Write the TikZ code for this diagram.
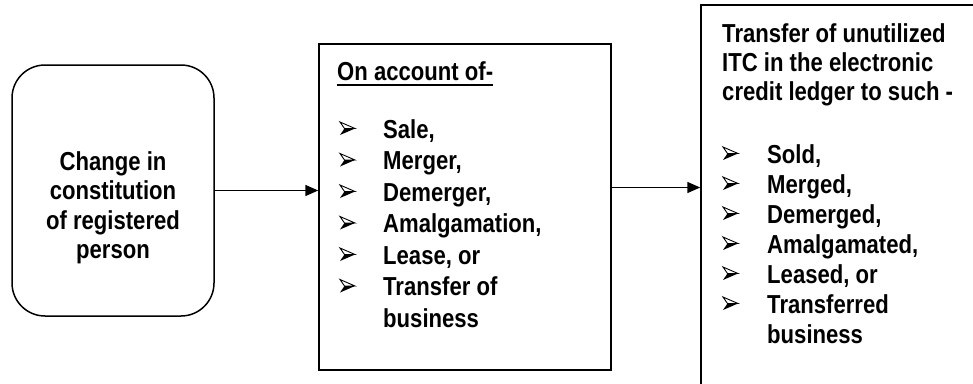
\documentclass[tikz,border=0pt]{standalone}
\usepackage{fontspec}
\setmainfont{Liberation Sans}[FakeStretch=0.85]
\usetikzlibrary{arrows.meta,calc}
\tikzset{
  boxline/.style={draw, line width=1.5pt},
  txt/.style={inner sep=0pt, font=\bfseries},
  arr/.style={line width=1.5pt, -{Triangle[length=13pt,width=11pt]}},
  arrowbul/.pic={
    \filldraw[fill=white, draw=black, line width=0.9pt, line join=miter] (4.5,0) -- (15,0) -- (0,-6.5) -- cycle;
    \fill[black] (4.5,0) -- (15,0) -- (0,6.5) -- cycle;
  },
}
\begin{document}
\begin{tikzpicture}[x=1pt,y=-1pt]
\useasboundingbox (0,0) rectangle (973,383);
\clip (0,0) rectangle (973,383);
% boxes
\node[boxline, rounded corners=33pt, minimum width=202pt, minimum height=251pt, inner sep=0pt] (chg) at (113,190.5) {};
\node[boxline, minimum width=292pt, minimum height=326pt, inner sep=0pt] (acct) at (465,207) {};
\node[boxline, minimum width=299pt, minimum height=415pt, inner sep=0pt] (itc) at (850.5,212.5) {};
% left text
\node[txt, anchor=base] (chgtxt) at (113,170) {\fontsize{26}{29.5}\selectfont
  \begin{tabular}[t]{@{}c@{}}Change in\\ constitution\\ of registered\\ person\end{tabular}};
% middle text
\node[txt, anchor=base west] (hdr) at (337,80) {\fontsize{26}{30}\selectfont On account of-};
\draw[line width=1.6pt] ([yshift=-5pt]hdr.base west) -- ([yshift=-5pt]hdr.base east);
\node[txt, anchor=base west] (acctlist) at (383,138) {\fontsize{26}{31.5}\selectfont
  \begin{tabular}[t]{@{}l@{}}
  Sale,\\ Merger,\\ Demerger,\\ Amalgamation,\\ Lease, or\\ Transfer of\\ business
  \end{tabular}};
\foreach \k in {0,...,5}
  \pic at ($(acctlist.base west)+(-43,{31.5*\k-9.5})$) {arrowbul};
% right text
\node[txt, anchor=base west] (itchdr) at (722,42) {\fontsize{26}{29}\selectfont
  \begin{tabular}[t]{@{}l@{}}Transfer of unutilized\\ ITC in the electronic\\ credit ledger to such -\end{tabular}};
\node[txt, anchor=base west] (itclist) at (767,163) {\fontsize{26}{30}\selectfont
  \begin{tabular}[t]{@{}l@{}}
  Sold,\\ Merged,\\ Demerged,\\ Amalgamated,\\ Leased, or\\ Transferred\\ business
  \end{tabular}};
\foreach \k in {0,...,5}
  \pic at ($(itclist.base west)+(-44,{30*\k-9.5})$) {arrowbul};
% arrows
\draw[arr] (chg.east) -- (chg.east -| acct.west);
\draw[arr] ([yshift=3pt]acct.east |- chg.east) -- ([yshift=3pt]chg.east -| itc.west);
\end{tikzpicture}
\end{document}
